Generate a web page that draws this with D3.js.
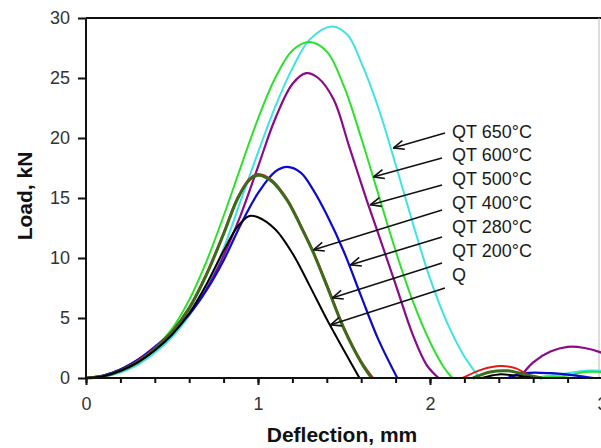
<!DOCTYPE html>
<html>
<head>
<meta charset="utf-8">
<script src="https://cdn.jsdelivr.net/npm/d3@7"></script>
<style>
  body { margin: 0; background: #fff; }
  svg { display: block; font-family: "Liberation Sans", Arial, sans-serif; }
</style>
</head>
<body>
<div id="chart"></div>
<script>
// deflection (mm), load (kN); null = break between the main curve and the tail
const q = [[0,0],[0.1,0.15],[0.2,0.6],[0.3,1.3],[0.4,2.3],[0.5,3.6],[0.6,5.4],[0.7,7.8],[0.8,10.6],[0.88,12.6],[0.95,13.5],[1.0,13.4],[1.1,12.4],[1.2,10.4],[1.3,7.7],[1.4,4.9],[1.5,2.3],[1.59,0],null,[2.3,0],[2.4,0.3],[2.5,0.2],[2.6,0]];
const qt200 = [[0,0],[0.1,0.15],[0.2,0.6],[0.3,1.3],[0.4,2.4],[0.5,3.8],[0.6,5.8],[0.7,8.6],[0.8,12],[0.88,14.9],[0.95,16.5],[1.0,16.9],[1.08,16.4],[1.17,14.8],[1.25,12.6],[1.32,10.5],[1.4,7.7],[1.5,4.1],[1.6,1.3],[1.66,0],null,[2.25,0],[2.35,0.5],[2.45,0.6],[2.55,0.3],[2.65,0]];
const qt280 = [[0,0],[0.1,0.15],[0.2,0.6],[0.3,1.4],[0.4,2.5],[0.5,3.9],[0.6,5.9],[0.7,8.7],[0.8,12.1],[0.88,15],[0.95,16.6],[1.0,17],[1.08,16.5],[1.17,14.9],[1.25,12.7],[1.32,10.6],[1.4,7.8],[1.5,4.2],[1.6,1.4],[1.67,0],null,[2.19,0],[2.3,0.7],[2.41,1.0],[2.5,0.8],[2.58,0.2],[2.65,0]];
const qt400 = [[0,0],[0.1,0.2],[0.2,0.7],[0.3,1.5],[0.4,2.6],[0.5,3.8],[0.6,5.3],[0.7,7.3],[0.8,9.8],[0.9,12.8],[1.0,15.4],[1.1,17.2],[1.17,17.6],[1.25,17.1],[1.32,15.7],[1.4,13.6],[1.5,10.5],[1.6,6.8],[1.7,3.2],[1.81,0],null,[2.45,0],[2.55,0.4],[2.7,0.4],[2.85,0.2],[2.95,0]];
const qt500 = [[0,0],[0.1,0.2],[0.2,0.7],[0.3,1.5],[0.4,2.5],[0.5,3.7],[0.6,5.3],[0.7,7.4],[0.8,10.2],[0.9,13.6],[1.0,17.6],[1.1,21.6],[1.2,24.5],[1.28,25.4],[1.35,25.0],[1.44,23.2],[1.53,19.3],[1.63,14.9],[1.7,12.0],[1.8,7.8],[1.9,3.6],[1.98,1.1],[2.05,0],null,[2.52,0],[2.6,1.3],[2.7,2.2],[2.8,2.6],[2.9,2.5],[3.0,2.1]];
const qt600 = [[0,0],[0.1,0.15],[0.2,0.6],[0.3,1.3],[0.4,2.5],[0.5,4.1],[0.6,6.5],[0.7,9.7],[0.8,13.5],[0.9,17.6],[1.0,21.6],[1.1,25.0],[1.2,27.3],[1.3,28.0],[1.4,27.2],[1.5,24.3],[1.6,20.0],[1.7,15.3],[1.8,10.6],[1.9,6.4],[2.0,3.0],[2.08,0.9],[2.13,0],null,[2.6,0],[2.8,0.2],[2.9,0.5],[3.0,0.5]];
const qt650 = [[0,0],[0.1,0.1],[0.2,0.45],[0.3,1.1],[0.4,2.1],[0.5,3.4],[0.6,5.2],[0.7,7.6],[0.8,10.8],[0.9,14.8],[1.0,18.8],[1.1,22.6],[1.2,25.8],[1.3,28.2],[1.43,29.3],[1.52,28.6],[1.6,26.3],[1.7,22.5],[1.8,17.8],[1.9,12.9],[2.0,8.3],[2.1,4.6],[2.2,1.8],[2.29,0],null,[2.6,0],[2.8,0.4],[2.9,0.6],[3.0,0.6]];

const seriesNames = ["QT 650", "QT 600", "QT 500", "QT 400", "QT 280", "QT 200", "Q"];
const seriesData = [qt650, qt600, qt500, qt400, qt280, qt200, q];
const seriesColors = ["#3fe3e3", "#2ee02e", "#8a0a8a", "#0a0ad0", "#e01a1a", "#3d6b1c", "#000000"];
const seriesWidths = [2, 2, 2.2, 2.2, 2, 3, 2];

const xTicks = [0, 1, 2, 3];
const yTicks = [0, 5, 10, 15, 20, 25, 30];

// annotation labels and arrows (data units)
const labels = ["QT 650°C", "QT 600°C", "QT 500°C", "QT 400°C", "QT 280°C", "QT 200°C", "Q"];
const labelY = [20.5, 18.58, 16.6, 14.6, 12.6, 10.6, 8.65];
const arrowFrom = [[2.087, 20.42], [2.07, 18.33], [2.07, 16.08], [2.07, 14.0], [2.07, 11.75], [2.07, 9.58], [2.087, 7.5]];
const arrowTo = [[1.785, 19.17], [1.669, 16.75], [1.651, 14.42], [1.32, 10.67], [1.535, 9.42], [1.43, 6.67], [1.419, 4.42]];

const W = 601, H = 448;
const margin = {top: 18, right: -1, bottom: 70, left: 86};

const svg = d3.select("#chart").append("svg")
    .attr("width", W)
    .attr("height", H);

const x = d3.scaleLinear().domain([0, 3]).range([margin.left, 602]);
const y = d3.scaleLinear().domain([0, 30]).range([H - margin.bottom, margin.top]);

// frame: top black, right faint
svg.append("line")
    .attr("x1", x(0)).attr("x2", W)
    .attr("y1", y(30)).attr("y2", y(30))
    .attr("stroke", "#111").attr("stroke-width", 2);
svg.append("line")
    .attr("x1", 599).attr("x2", 599)
    .attr("y1", y(30)).attr("y2", y(0))
    .attr("stroke", "#bbb").attr("stroke-width", 1);

// curves
const line = d3.line()
    .defined(d => d)
    .x(d => x(d[0]))
    .y(d => y(d[1]))
    .curve(d3.curveCatmullRom.alpha(0.5));

seriesData.forEach((data, i) => {
    svg.append("path")
        .datum(data)
        .attr("fill", "none")
        .attr("stroke", seriesColors[i])
        .attr("stroke-width", seriesWidths[i])
        .attr("stroke-linejoin", "round")
        .attr("d", line);
});

// axes
const xAxis = d3.axisBottom(x).tickValues(xTicks).tickFormat(d3.format("d")).tickSize(7).tickPadding(12);
const xMinor = d3.axisBottom(x).tickValues(d3.range(0, 3.01, 0.2)).tickFormat("").tickSize(5);
const yAxis = d3.axisLeft(y).tickValues(yTicks).tickSize(8).tickPadding(8);

const xMinorG = svg.append("g")
    .attr("transform", `translate(0,${y(0)})`)
    .call(xMinor);
const xAxisG = svg.append("g")
    .attr("transform", `translate(0,${y(0)})`)
    .call(xAxis);
const yAxisG = svg.append("g")
    .attr("transform", `translate(${x(0)},0)`)
    .call(yAxis);

[xMinorG, xAxisG, yAxisG].forEach(g => {
    g.select(".domain").attr("stroke", "#111").attr("stroke-width", 2);
    g.selectAll(".tick line").attr("stroke", "#111").attr("stroke-width", 2);
});
xMinorG.select(".domain").attr("d", `M${x(0)},0H${W}`);
xAxisG.select(".domain").attr("d", `M${x(0)},0H${W}`);
yAxisG.select(".domain").attr("d", `M0,${y(0)}V${y(30)}`);
[xAxisG, yAxisG].forEach(g => {
    g.selectAll(".tick text")
        .attr("font-family", "Liberation Sans, Arial, sans-serif")
        .attr("font-size", 18)
        .attr("fill", "#333");
});

// axis titles
svg.append("text")
    .attr("x", 342)
    .attr("y", 442)
    .attr("text-anchor", "middle")
    .attr("font-weight", "bold")
    .attr("font-size", 21)
    .attr("fill", "#111")
    .text("Deflection, mm");

svg.append("text")
    .attr("transform", `translate(32,${y(15) - 2}) rotate(-90)`)
    .attr("text-anchor", "middle")
    .attr("font-weight", "bold")
    .attr("font-size", 21)
    .attr("fill", "#111")
    .text("Load, kN");

// arrows
svg.append("defs").append("marker")
    .attr("id", "head")
    .attr("viewBox", "0 -6 12 12")
    .attr("refX", 0).attr("refY", 0)
    .attr("markerWidth", 12).attr("markerHeight", 12)
    .attr("markerUnits", "userSpaceOnUse")
    .attr("orient", "auto")
    .append("path")
    .attr("d", "M11,-4.5L0.5,0L11,4.5")
    .attr("fill", "none")
    .attr("stroke", "#111")
    .attr("stroke-width", 1.6);

arrowFrom.forEach((f, i) => {
    svg.append("line")
        .attr("x1", x(arrowTo[i][0])).attr("y1", y(arrowTo[i][1]))
        .attr("x2", x(f[0])).attr("y2", y(f[1]))
        .attr("stroke", "#111")
        .attr("stroke-width", 1.6)
        .attr("marker-start", "url(#head)");
});

// labels
svg.selectAll("text.lab")
    .data(labels)
    .enter().append("text")
    .attr("class", "lab")
    .attr("x", x(2.128))
    .attr("y", (d, i) => y(labelY[i]))
    .attr("dy", "0.35em")
    .attr("font-size", 18)
    .attr("fill", "#1a1a1a")
    .text(d => d);
</script>
</body>
</html>
